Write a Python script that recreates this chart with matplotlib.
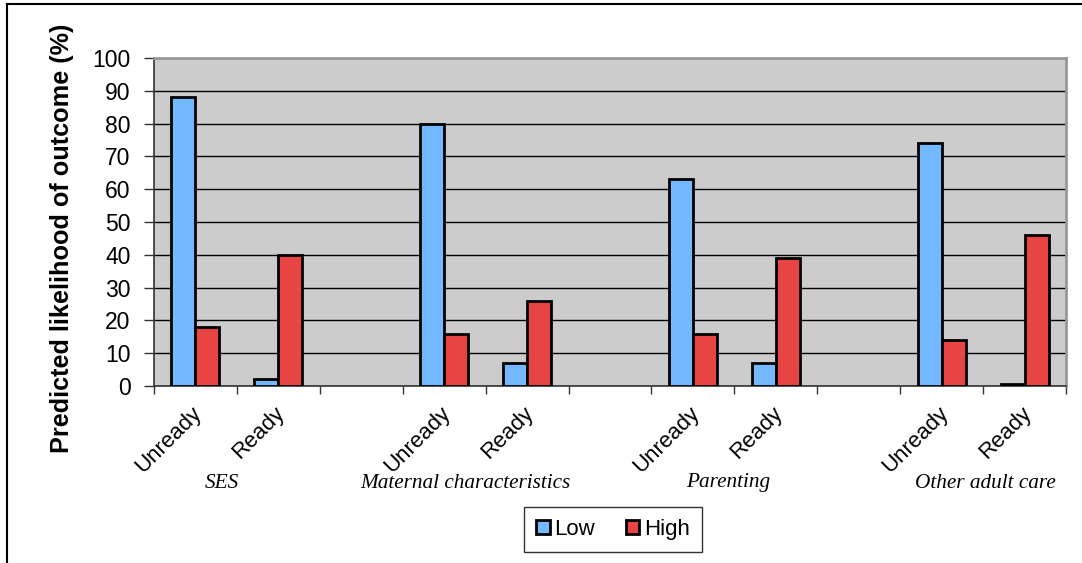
import matplotlib
matplotlib.use("Agg")
import matplotlib.pyplot as plt
import matplotlib.transforms as mtransforms
import numpy as np
from matplotlib.patches import Patch
from matplotlib.lines import Line2D

# Data
groups = ["SES", "Maternal characteristics", "Parenting", "Other adult care"]
categories = ["Unready", "Ready", "",
              "Unready", "Ready", "",
              "Unready", "Ready", "",
              "Unready", "Ready"]
low_values = [88, 2, None, 80, 7, None, 63, 7, None, 74, 0.5]
high_values = [18, 40, None, 16, 26, None, 16, 39, None, 14, 46]
series_names = ["Low", "High"]
yticks = list(range(0, 101, 10))

blue = "#74b9ff"
red = "#e84444"

fig = plt.figure(figsize=(10.82, 5.63), dpi=100)
fig.patch.set_facecolor("white")
ax = fig.add_axes([154 / 1082, 1 - 386 / 563, 912 / 1082, 328 / 563])
ax.set_facecolor("#cccccc")

n = len(categories)
x = np.arange(n)
w = 0.29
for i in range(n):
    if low_values[i] is not None:
        ax.bar(x[i] - w / 2, low_values[i], width=w, color=blue,
               edgecolor="black", linewidth=2.0, zorder=3)
    if high_values[i] is not None:
        ax.bar(x[i] + w / 2, high_values[i], width=w, color=red,
               edgecolor="black", linewidth=2.0, zorder=3)

ax.set_xlim(-0.5, n - 0.5)
ax.set_ylim(0, 100)
ax.set_yticks(yticks)
ax.set_yticklabels([str(v) for v in yticks], fontsize=16.5, family="Liberation Sans")
ax.yaxis.grid(True, color="black", linewidth=1.0, zorder=1)
ax.set_axisbelow(True)

# boundaries get tick marks, category centres get the labels
ax.set_xticks(np.arange(-0.5, n, 1.0))
ax.set_xticklabels([])
ax.set_xticks(x, minor=True)
ax.set_xticklabels(categories, minor=True, rotation=45, ha="right",
                   rotation_mode="anchor", fontsize=16, family="Liberation Sans")
ax.tick_params(axis="x", which="minor", length=0, pad=12)
ax.tick_params(axis="x", which="major", direction="out", length=6, width=1.0, color="#333333")
ax.tick_params(axis="y", direction="out", length=7, width=1.0, color="#333333", pad=10)
shift = mtransforms.ScaledTranslation(-4 / 100, 0, fig.dpi_scale_trans)
for lbl in ax.get_xticklabels(minor=True):
    lbl.set_transform(lbl.get_transform() + shift)

ax.spines["left"].set_color("#333333")
ax.spines["bottom"].set_color("#333333")
ax.spines["left"].set_linewidth(1.2)
ax.spines["bottom"].set_linewidth(1.2)
ax.spines["top"].set_color("#999999")
ax.spines["right"].set_color("#999999")
ax.spines["top"].set_linewidth(2)
ax.spines["right"].set_linewidth(2)

ax.set_ylabel("Predicted likelihood of outcome (%)", fontsize=18.2, fontweight="bold",
              family="Liberation Sans", va="center")
ax.yaxis.set_label_coords((62 - 154) / 912, 0.451)

# group captions
group_x = [222, 465, 728, 985]
for gx, g in zip(group_x, groups):
    fig.text(gx / 1082, 1 - 483 / 563, g, ha="center", va="center",
             fontsize=15.3, style="italic", family="Liberation Serif")

handles = [Patch(facecolor=blue, edgecolor="black", linewidth=2.0),
           Patch(facecolor=red, edgecolor="black", linewidth=2.0)]
leg = fig.legend(handles, series_names, loc="center", bbox_to_anchor=(613 / 1082, 1 - 529.5 / 563),
                 ncol=2, frameon=True, fancybox=False, handlelength=0.6,
                 handleheight=0.6, handletextpad=0.2, columnspacing=1.4, borderpad=0.55,
                 prop={"family": "Liberation Sans", "size": 16})
leg.get_frame().set_edgecolor("black")
leg.get_frame().set_linewidth(1.0)

# outer frame (top and left edges)
fig.add_artist(Line2D([7 / 1082, 7 / 1082], [0, 1 - 4 / 563], color="black", linewidth=1.5,
                      transform=fig.transFigure))
fig.add_artist(Line2D([7 / 1082, 1], [1 - 4 / 563, 1 - 4 / 563], color="black", linewidth=1.5,
                      transform=fig.transFigure))

fig.savefig("out.png", dpi=100)
